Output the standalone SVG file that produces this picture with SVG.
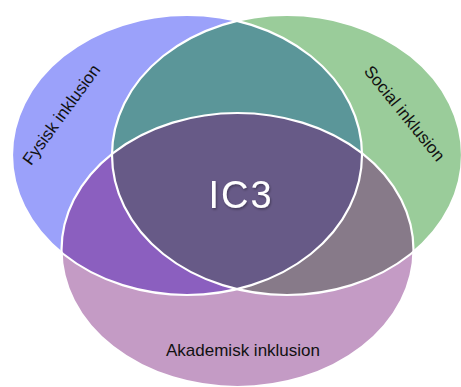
<svg xmlns="http://www.w3.org/2000/svg" width="461" height="387" viewBox="0 0 461 387">
  <style>
    .lbl { font-family: "Liberation Sans", Arial, sans-serif; font-size: 17px; fill: #111; }
    .big { font-family: "Liberation Sans", Arial, sans-serif; font-size: 38px; fill: #fff; }
    .edge { fill: none; stroke: #fff; stroke-width: 2.2; }
  </style>
  <defs>
    <clipPath id="clipBlue"><ellipse cx="187" cy="155" rx="175" ry="140"/></clipPath>
    <clipPath id="clipGreen"><ellipse cx="287" cy="155" rx="175" ry="140"/></clipPath>
    <filter id="shadow" x="-20%" y="-20%" width="140%" height="140%">
      <feDropShadow dx="1" dy="1.5" stdDeviation="1" flood-color="#000" flood-opacity="0.35"/>
    </filter>
  </defs>
  <rect width="461" height="387" fill="#fff"/>

  <g id="fysisk">
    <ellipse cx="187" cy="155" rx="175" ry="140" fill="#9BA1FA"/>
  </g>
  <g id="social">
    <ellipse cx="287" cy="155" rx="175" ry="140" fill="#9ACC9A"/>
  </g>
  <g id="akademisk">
    <ellipse cx="237.5" cy="250" rx="176" ry="137" fill="#C49BC5"/>
  </g>

  <g id="overlaps">
    <g clip-path="url(#clipBlue)">
      <ellipse cx="287" cy="155" rx="175" ry="140" fill="#5B9699"/>
      <ellipse cx="237.5" cy="250" rx="176" ry="137" fill="#8B5FBF"/>
    </g>
    <g clip-path="url(#clipGreen)">
      <ellipse cx="237.5" cy="250" rx="176" ry="137" fill="#877A89"/>
    </g>
    <g clip-path="url(#clipBlue)">
      <g clip-path="url(#clipGreen)">
        <ellipse cx="237.5" cy="250" rx="176" ry="137" fill="#675A87"/>
      </g>
    </g>
  </g>

  <g id="outlines">
    <ellipse class="edge" cx="187" cy="155" rx="175" ry="140"/>
    <ellipse class="edge" cx="287" cy="155" rx="175" ry="140"/>
    <ellipse class="edge" cx="237.5" cy="250" rx="176" ry="137"/>
  </g>

  <g id="labels">
    <text class="lbl" text-anchor="middle" transform="translate(66,118) rotate(-54)">Fysisk inklusion</text>
    <text class="lbl" text-anchor="middle" transform="translate(400,117) rotate(51)">Social inklusion</text>
    <text class="lbl" text-anchor="middle" x="243" y="356">Akademisk inklusion</text>
    <text id="ic3" class="big" text-anchor="middle" x="241" y="208" letter-spacing="2" filter="url(#shadow)">IC3</text>
  </g>
</svg>
